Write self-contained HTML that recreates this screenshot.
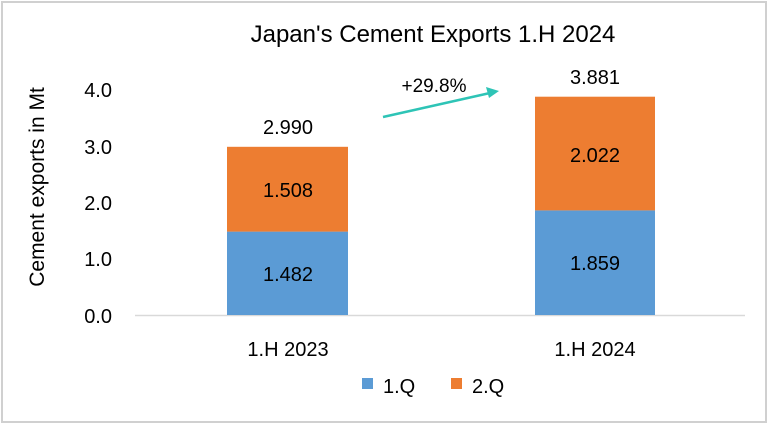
<!DOCTYPE html>
<html><head><style>body{margin:0;background:#fff}svg{display:block}text{font-family:"Liberation Sans",sans-serif;fill:#000}</style></head>
<body>
<svg width="768" height="424" viewBox="0 0 768 424">
<rect x="2" y="2" width="764" height="420" fill="#fff" stroke="#d0d0d0" stroke-width="2"/>
<text x="433" y="42" font-size="24" text-anchor="middle">Japan's Cement Exports 1.H 2024</text>
<g font-size="20" text-anchor="end">
<text x="112" y="323">0.0</text><text x="112" y="266">1.0</text><text x="112" y="210">2.0</text><text x="112" y="154">3.0</text><text x="112" y="97">4.0</text>
</g>
<text transform="translate(44,187) rotate(-90)" font-size="21" text-anchor="middle">Cement  exports in Mt</text>
<line x1="135" y1="315.5" x2="745" y2="315.5" stroke="#d9d9d9" stroke-width="1.5"/>
<rect x="227" y="231.6" width="121" height="83.4" fill="#5b9bd5"/>
<rect x="227" y="146.8" width="121" height="84.8" fill="#ed7d31"/>
<rect x="535" y="210.4" width="120" height="104.6" fill="#5b9bd5"/>
<rect x="535" y="96.7" width="120" height="113.7" fill="#ed7d31"/>
<g font-size="20" text-anchor="middle">
<text x="288" y="281">1.482</text><text x="288" y="197">1.508</text><text x="288" y="134">2.990</text>
<text x="595" y="270">1.859</text><text x="595" y="162">2.022</text><text x="595" y="84">3.881</text>
<text x="434" y="92" font-size="19">+29.8%</text>
<text x="288" y="356">1.H 2023</text><text x="595" y="356">1.H 2024</text>
<text x="383" y="393" text-anchor="start">1.Q</text><text x="472" y="393" text-anchor="start">2.Q</text>
</g>
<line x1="383" y1="117" x2="490" y2="93" stroke="#2ec4b6" stroke-width="2.5"/>
<polygon points="499,91 486,87 489,98" fill="#2ec4b6"/>
<rect x="362" y="378" width="11" height="11" fill="#5b9bd5"/>
<rect x="451" y="378" width="11" height="11" fill="#ed7d31"/>
</svg>
</body></html>
